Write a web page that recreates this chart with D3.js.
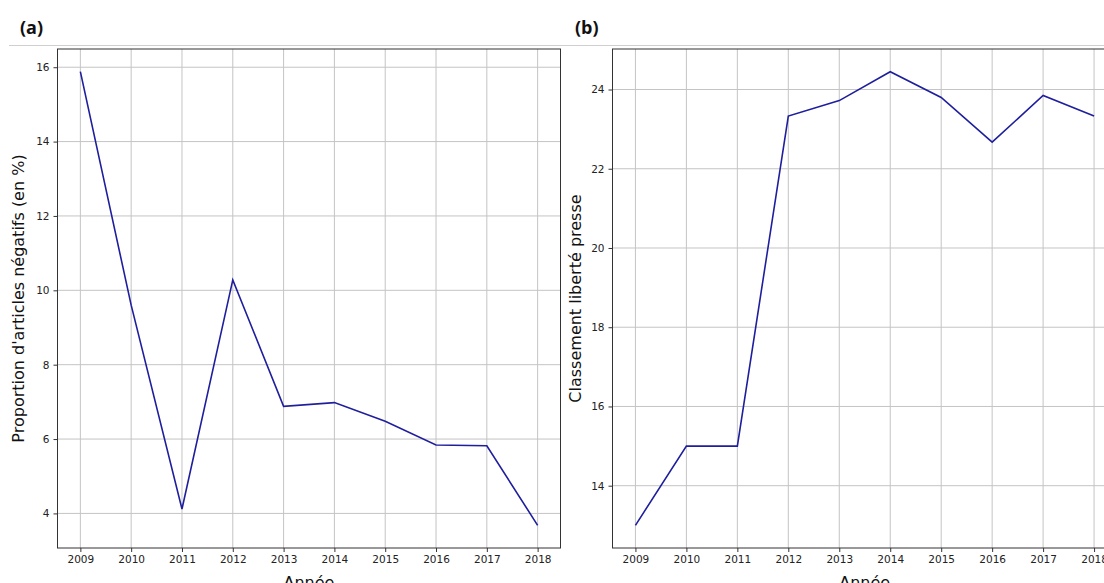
<!DOCTYPE html>
<html><head><meta charset="utf-8">
<script src="https://cdn.jsdelivr.net/npm/d3@7"></script>
<style>
body{margin:0;background:#fff;overflow:hidden;}
svg{display:block;}
</style></head>
<body>
<svg id="c" width="1104" height="583"></svg>
<script>
const years = [2009,2010,2011,2012,2013,2014,2015,2016,2017,2018];
const negatifs = [15.88,9.6,4.12,10.28,6.88,6.98,6.48,5.84,5.82,3.68];
const classement = [13.0,15.0,15.0,23.33,23.72,24.45,23.8,22.67,23.85,23.33];
const ticksA = [4,6,8,10,12,14,16];
const ticksB = [14,16,18,20,22,24];

const svg = d3.select("#c");
const lineColor = "#1f1f9e";

// separator line
svg.append("line").attr("x1",9).attr("x2",1104).attr("y1",45.5).attr("y2",45.5)
  .attr("stroke","#cfcfcf").attr("stroke-width",1);

svg.append("text").attr("x",20).attr("y",34).text("(a)")
  .attr("font-family","'Open Sans', Lato, sans-serif").attr("font-weight","bold").attr("font-size",18).attr("fill","#111");
svg.append("text").attr("x",575).attr("y",34).text("(b)")
  .attr("font-family","'Open Sans', Lato, sans-serif").attr("font-weight","bold").attr("font-size",18).attr("fill","#111");

function panel(x0, x1, values, ticks, ylabel, ylabelX) {
  const top = 49, bottom = 548;
  const ext = d3.extent(values);
  const m = (ext[1]-ext[0])*0.05;
  const x = d3.scaleLinear().domain([2009-0.45, 2018+0.45]).range([x0, x1]);
  const y = d3.scaleLinear().domain([ext[0]-m, ext[1]+m]).range([bottom, top]);
  const g = svg.append("g");
  const clipId = "clip"+Math.round(x0);
  g.append("clipPath").attr("id",clipId).append("rect")
    .attr("x",x0).attr("y",top).attr("width",x1-x0).attr("height",bottom-top);
  // grid
  g.selectAll(".gx").data(years).enter().append("line")
    .attr("x1",d=>x(d)).attr("x2",d=>x(d)).attr("y1",top).attr("y2",bottom)
    .attr("stroke","#c4c4c4").attr("stroke-width",1);
  g.selectAll(".gy").data(ticks).enter().append("line")
    .attr("x1",x0).attr("x2",x1).attr("y1",d=>y(d)).attr("y2",d=>y(d))
    .attr("stroke","#c4c4c4").attr("stroke-width",1);
  // line
  g.append("path").datum(values.map((v,i)=>[years[i],v]))
    .attr("clip-path",`url(#${clipId})`)
    .attr("d", d3.line().x(d=>x(d[0])).y(d=>y(d[1])))
    .attr("fill","none").attr("stroke",lineColor).attr("stroke-width",1.6);
  // axes
  const ax = d3.axisBottom(x).tickValues(years).tickFormat(d3.format("d")).tickSize(4).tickPadding(4);
  const ay = d3.axisLeft(y).tickValues(ticks).tickFormat(d3.format("d")).tickSize(4).tickPadding(4);
  const gx = g.append("g").attr("transform",`translate(0,${bottom})`).call(ax);
  const gy = g.append("g").attr("transform",`translate(${x0},0)`).call(ay);
  [gx,gy].forEach(a=>{
    a.select(".domain").remove();
    a.selectAll("line").attr("stroke","#333");
    a.selectAll("text").attr("font-family","'DejaVu Sans', sans-serif").attr("font-size",10.5).attr("fill","#222");
  });
  // frame
  g.append("rect").attr("x",x0).attr("y",top).attr("width",x1-x0).attr("height",bottom-top)
    .attr("fill","none").attr("stroke","#333").attr("stroke-width",1);
  // labels
  g.append("text").attr("x",(x0+x1)/2).attr("y",588).attr("text-anchor","middle")
    .attr("font-family","'DejaVu Sans', sans-serif").attr("font-size",16).attr("fill","#111").text("Année");
  g.append("text").attr("transform",`translate(${ylabelX},${(top+bottom)/2}) rotate(-90)`)
    .attr("text-anchor","middle")
    .attr("font-family","'DejaVu Sans', sans-serif").attr("font-size",16).attr("fill","#111").text(ylabel);
}

panel(57.5, 560.5, negatifs, ticksA, "Proportion d'articles négatifs (en %)", 24);
panel(612.5, 1117, classement, ticksB, "Classement liberté presse", 581);
</script>
</body></html>
